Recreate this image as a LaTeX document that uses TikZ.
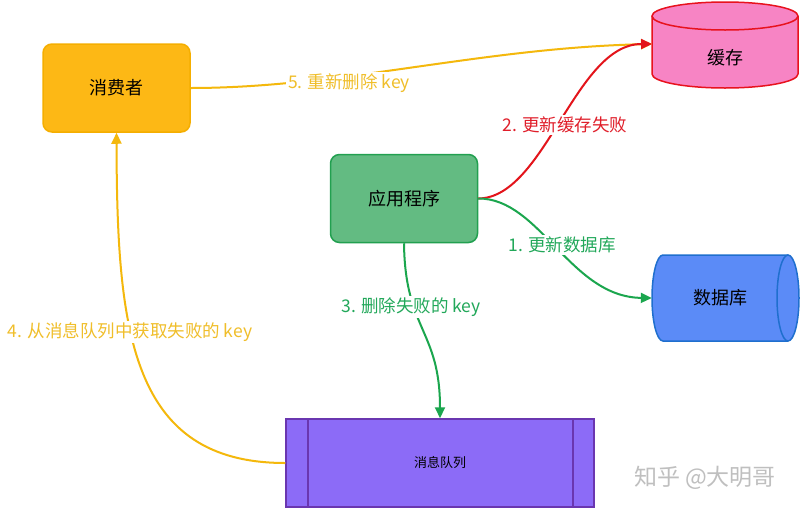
\documentclass[tikz,border=0pt]{standalone}
\usepackage{fontspec}
\setmainfont{Noto Sans CJK SC}
\usetikzlibrary{arrows.meta}
\definecolor{ylw}{HTML}{F4B80C}
\definecolor{ylwtxt}{HTML}{F0BE2A}
\definecolor{consfill}{HTML}{FDB815}
\definecolor{consdraw}{HTML}{F5AE00}
\definecolor{redl}{HTML}{E3141B}
\definecolor{redtxt}{HTML}{E01E2A}
\definecolor{pinkfill}{HTML}{F784C4}
\definecolor{pinkdraw}{HTML}{E8121E}
\definecolor{appfill}{HTML}{63BB82}
\definecolor{appdraw}{HTML}{22A050}
\definecolor{grn}{HTML}{1BA64E}
\definecolor{grntxt}{HTML}{22A85A}
\definecolor{dbfill}{HTML}{5B8BF7}
\definecolor{dbdraw}{HTML}{1F6FCE}
\definecolor{qfill}{HTML}{8C6BF7}
\definecolor{qdraw}{HTML}{6A36B0}
\tikzset{
  boxnode/.style={rounded corners=9pt, line width=1.5pt, minimum width=147pt, minimum height=88pt, inner sep=0pt, font=\fontsize{18}{21}\selectfont},
  plain/.style={inner sep=0pt, font=\fontsize{18}{21}\selectfont},
  conn/.style={line width=2pt, -{Triangle[length=11pt,width=10pt]}},
  lbl/.style={fill=white, inner sep=2pt, font=\fontsize{17.5}{21}\selectfont}
}
\begin{document}
\begin{tikzpicture}[x=1pt,y=-1pt]
\path[use as bounding box, fill=white] (0,0) rectangle (800,509);

% consumer
\node[boxnode, fill=consfill, draw=consdraw] (cons) at (116.5,88) {消费者};
% app
\node[boxnode, fill=appfill, draw=appdraw] (app) at (404,198.5) {应用程序};

% cache cylinder
\fill[pinkfill] (652,16) -- (652,74) arc (180:0:73 and 14) -- (798,16) -- cycle;
\filldraw[fill=pinkfill, draw=pinkdraw, line width=1.5pt] (725,16) ellipse (73 and 14);
\draw[pinkdraw, line width=1.5pt] (652,16) -- (652,74) arc (180:0:73 and 14) -- (798,16);
\node[plain, minimum width=146pt, minimum height=58pt] (cache) at (725,58) {缓存};

% database cylinder
\fill[dbfill] (663,255) arc (270:90:11 and 43) -- (788,341) -- (788,255) -- cycle;
\draw[dbdraw, line width=1.5pt] (788,255) -- (663,255) arc (270:90:11 and 43) -- (788,341);
\filldraw[fill=dbfill, draw=dbdraw, line width=1.5pt] (788,298) ellipse (11 and 43);
\node[plain, minimum width=136pt, minimum height=86pt] (db) at (720,298) {数据库};

% queue
\node[draw=qdraw, fill=qfill, line width=1.5pt, minimum width=308pt, minimum height=88pt, inner sep=0pt, font=\fontsize{13}{16}\selectfont] (queue) at (440,463) {消息队列};
\draw[qdraw, line width=1.5pt] (308,419) -- (308,507);
\draw[qdraw, line width=1.5pt] (573,419) -- (573,507);

% connectors
\coordinate (cachein) at (652,44);
\draw[conn, ylw] (cons.east) .. controls (340,88) and (480,48) .. (cachein);
\draw[conn, redl] (app.east) .. controls (545,198) and (575,44) .. (cachein);
\draw[conn, grn] (app.east) .. controls (540,198) and (570,297) .. (db.west);
\draw[conn, grn] (app.south) .. controls (405,330) and (440,330) .. (queue.north);
\draw[conn, ylw] (queue.west) .. controls (130,463) and (117,330) .. (cons.south);

% labels
\node[lbl, text=ylwtxt] (l5) at (349,83) {5. 重新删除 key};
\node[lbl, text=redtxt] (l2) at (565,125) {2. 更新缓存失败};
\node[lbl, text=grntxt] (l1) at (562,245) {1. 更新数据库};
\node[lbl, text=grntxt] (l3) at (411,307) {3. 删除失败的 key};
\node[lbl, text=ylwtxt] (l4) at (130,332) {4. 从消息队列中获取失败的 key};

% watermark
\node[inner sep=0pt, text=black!25, font=\fontsize{23}{26}\selectfont] (wm) at (705,478) {知乎 @大明哥};
\end{tikzpicture}
\end{document}
